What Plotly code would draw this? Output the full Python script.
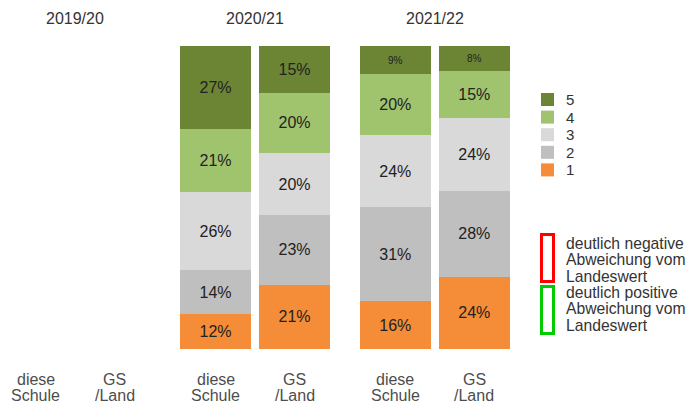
import plotly.graph_objects as go

# ---- data ----
years = ["2019/20", "2020/21", "2021/22"]
member_lines = [["diese", "Schule"], ["GS", "/Land"]]
grades = ["1", "2", "3", "4", "5"]
# columns: 2019/20 Schule, 2019/20 GS/Land, 2020/21 Schule, 2020/21 GS/Land, 2021/22 Schule, 2021/22 GS/Land
grade1 = [None, None, 11.6, 21.2, 15.8, 23.8]
grade2 = [None, None, 14.4, 23.0, 31.0, 28.4]
grade3 = [None, None, 25.7, 20.4, 23.8, 24.2]
grade4 = [None, None, 20.9, 20.0, 20.0, 15.2]
grade5 = [None, None, 27.4, 15.4, 9.4, 8.4]
series = [grade1, grade2, grade3, grade4, grade5]
colors = ["#f58c37", "#bfbfbf", "#d9d9d9", "#a0c46e", "#6b8535"]
legend_lines = [["deutlich negative", "Abweichung vom", "Landeswert"],
                ["deutlich positive", "Abweichung vom", "Landeswert"]]
box_colors = ["#ff0000", "#00cc00"]

# ---- layout constants (pixels) ----
W, H = 692, 406
MT, MB = 46, 57
X0, GROUP, INNER, BARW = 35.7, 179.8, 79.0, 71.0
FONT = "Liberation Sans, Arial, sans-serif"

def cx(g, m):
    return X0 + g * GROUP + m * INNER

xs = [cx(g, m) for g in range(len(years)) for m in range(len(member_lines))]

def py(p):  # pixel y -> paper y
    return (H - MB - p) / (H - MT - MB)

fig = go.Figure()
for name, vals, col in zip(grades, series, colors):
    fig.add_trace(go.Bar(
        x=xs, y=vals, name=name, width=BARW, showlegend=False,
        marker=dict(color=col, line=dict(width=0)),
        texttemplate="%{y:.0f}%", textposition="inside",
        insidetextanchor="middle", textangle=0,
        insidetextfont=dict(family=FONT, color="#222",
                            size=[16 if (v is not None and v >= 10) else 10 for v in vals]),
        hoverinfo="skip",
    ))

annotations = []
shapes = []
for g, yr in enumerate(years):
    annotations.append(dict(x=cx(g, 0) + INNER / 2, y=py(19), xref="x", yref="paper",
                            text=yr, showarrow=False, xanchor="center", yanchor="middle",
                            font=dict(family=FONT, size=16, color="#333")))
    for m in range(len(member_lines)):
        for k, line in enumerate(member_lines[m]):
            annotations.append(dict(x=cx(g, m), y=py(379 + 16.7 * k), xref="x", yref="paper",
                                    text=line, showarrow=False, xanchor="center", yanchor="middle",
                                    font=dict(family=FONT, size=16, color="#4d4d4d")))

# colour legend (5 at top)
for j, (name, col) in enumerate(zip(reversed(grades), reversed(colors))):
    yc = 99.5 + j * 17.6
    shapes.append(dict(type="rect", xref="paper", yref="paper",
                       x0=541 / W, x1=554 / W, y0=py(yc - 6.5), y1=py(yc + 6.5),
                       line=dict(width=0), fillcolor=col))
    annotations.append(dict(x=564 / W, y=py(yc), xref="paper", yref="paper",
                            text=name, showarrow=False, xanchor="left", yanchor="middle",
                            font=dict(family=FONT, size=15, color="#333")))

for i, (lines, bc) in enumerate(zip(legend_lines, box_colors)):
    top = 234.5 + i * 52
    shapes.append(dict(type="rect", xref="paper", yref="paper",
                       x0=541.5 / W, x1=553.5 / W, y0=py(top), y1=py(top + 47),
                       line=dict(color=bc, width=3), fillcolor="rgba(0,0,0,0)"))
    for k, t in enumerate(lines):
        annotations.append(dict(x=564 / W, y=py(243 + i * 49 + 16.7 * k), xref="paper", yref="paper",
                                text=t, showarrow=False, xanchor="left", yanchor="middle",
                                font=dict(family=FONT, size=15.7, color="#333")))

fig.update_layout(
    width=W, height=H,
    margin=dict(l=0, r=0, t=MT, b=MB, pad=0),
    paper_bgcolor="white", plot_bgcolor="white",
    barmode="stack",
    showlegend=False,
    xaxis=dict(range=[0, W], visible=False, fixedrange=True),
    yaxis=dict(range=[0, 100], visible=False, fixedrange=True),
    annotations=annotations,
    shapes=shapes,
    font=dict(family=FONT),
)

fig.write_html("out.html", config={"displayModeBar": False},
               post_script="document.body.style.margin='0';")
